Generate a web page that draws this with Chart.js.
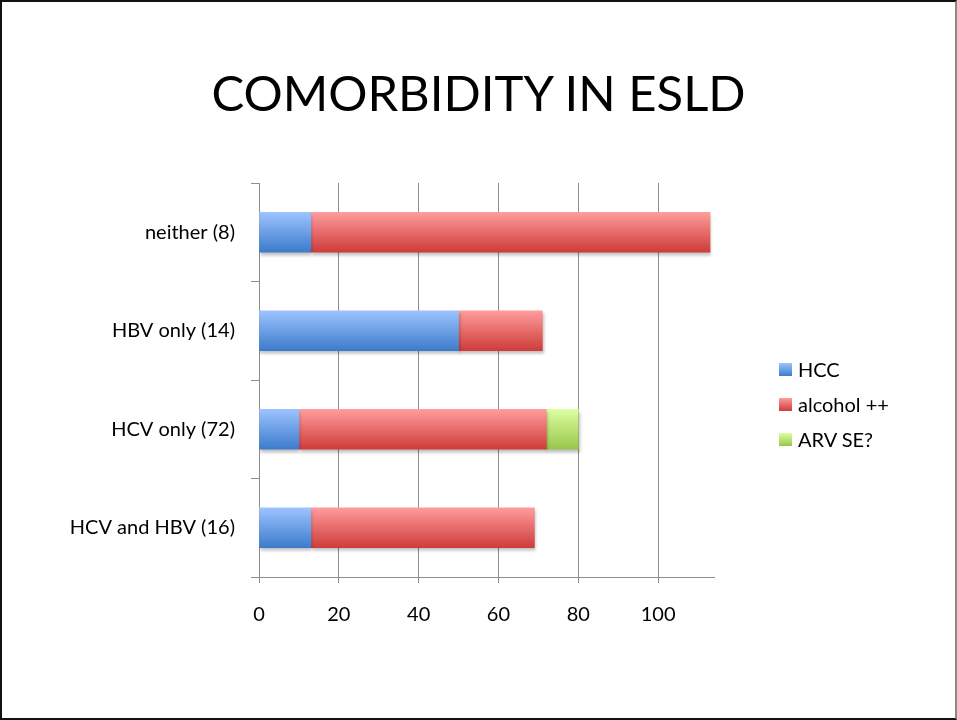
<!DOCTYPE html>
<html>
<head>
<meta charset="utf-8">
<script src="https://cdn.jsdelivr.net/npm/chart.js@4.4.1/dist/chart.umd.min.js"></script>
<style>
  html, body { margin: 0; padding: 0; background: #fff; }
  #wrap { position: relative; width: 957px; height: 720px; }
  #frame { position: absolute; left: 0; top: 0; width: 957px; height: 720px; box-sizing: border-box;
           border: 2px solid #111; border-right: 2px solid #888; pointer-events: none; }
  #title { position: absolute; left: 0; top: 68px; width: 957px; text-align: center;
           font-family: Lato, "Open Sans", sans-serif; font-size: 49px; line-height: 1; color: #000; }
  #legend { position: absolute; left: 779px; top: 357px; font-family: Lato, "Open Sans", sans-serif;
            font-size: 20px; color: #000; }
  #legend div { height: 35px; display: flex; align-items: flex-start; }
  #legend span.box { display: inline-block; width: 13px; height: 13px; margin: 6px 6px 0 0; }
</style>
</head>
<body>
<div id="wrap">
  <canvas id="chart"></canvas>
  <div id="title">COMORBIDITY IN ESLD</div>
  <div id="legend"></div>
  <div id="frame"></div>
</div>
<script>
// 데이터
const categories = ['neither (8)', 'HBV only (14)', 'HCV only (72)', 'HCV and HBV (16)'];
const seriesNames = ['HCC', 'alcohol ++', 'ARV SE?'];
const hccValues = [13, 50, 10, 13];
const alcoholValues = [100, 21, 62, 56];
const arvValues = [null, null, 8, null];
const xTicks = [0, 20, 40, 60, 80, 100];

// 그라데이션 색 (위, 아래)
const gradients = [
    ['#9dc3ff', '#3c7bcb'],
    ['#ff9c9c', '#cd3c3a'],
    ['#dcffa0', '#99c64c']
];

const BAR_H = 40;

function barGradient(idx) {
    return context => {
        const chart = context.chart;
        if (!chart.chartArea) return gradients[idx][1];
        const c = chart.scales.y.getPixelForValue(context.dataIndex);
        const g = chart.ctx.createLinearGradient(0, c - BAR_H / 2, 0, c + BAR_H / 2);
        g.addColorStop(0, gradients[idx][0]);
        g.addColorStop(1, gradients[idx][1]);
        return g;
    };
}

function makeDataset(label, data, idx) {
    return {
        label,
        data,
        backgroundColor: barGradient(idx),
        borderWidth: 0,
        barThickness: BAR_H,
        stack: 's'
    };
}

// 범례 (HTML)
function buildLegend() {
    const el = document.getElementById('legend');
    seriesNames.forEach((name, i) => {
        const row = document.createElement('div');
        const box = document.createElement('span');
        box.className = 'box';
        box.style.background = `linear-gradient(${gradients[i][0]}, ${gradients[i][1]})`;
        row.appendChild(box);
        row.appendChild(document.createTextNode(name));
        el.appendChild(row);
    });
}

// 막대 그림자
const shadowPlugin = {
    id: 'barShadow',
    beforeDatasetsDraw(chart) {
        const ctx = chart.ctx;
        ctx.save();
        ctx.shadowColor = 'rgba(0,0,0,0.25)';
        ctx.shadowOffsetX = 1;
        ctx.shadowOffsetY = 3;
        ctx.shadowBlur = 3;
    },
    afterDatasetsDraw(chart) {
        chart.ctx.restore();
    }
};

const canvas = document.getElementById('chart');
canvas.width = 957;
canvas.height = 720;

new Chart(canvas.getContext('2d'), {
    type: 'bar',
    data: {
        labels: categories,
        datasets: [
            makeDataset(seriesNames[0], hccValues, 0),
            makeDataset(seriesNames[1], alcoholValues, 1),
            makeDataset(seriesNames[2], arvValues, 2)
        ]
    },
    options: {
        indexAxis: 'y',
        responsive: false,
        animation: false,
        layout: { padding: { left: 0, right: 243, top: 183, bottom: 93 } },
        scales: {
            x: {
                stacked: true,
                min: 0,
                max: 114,
                afterBuildTicks: scale => { scale.ticks = xTicks.map(v => ({ value: v })); },
                afterFit: scale => { scale.height = 50; },
                grid: { color: '#8e8e8e', tickLength: 6, lineWidth: 1 },
                border: { color: '#8e8e8e' },
                ticks: {
                    color: '#000',
                    padding: 20,
                    font: { family: 'Lato', size: 20 }
                }
            },
            y: {
                stacked: true,
                afterFit: scale => { scale.width = 259; },
                grid: { drawOnChartArea: false, color: '#8e8e8e', tickLength: 8 },
                border: { color: '#8e8e8e' },
                ticks: {
                    color: '#000',
                    padding: 16,
                    font: { family: 'Lato', size: 20 }
                }
            }
        },
        plugins: {
            legend: { display: false },
            tooltip: { enabled: false },
            title: { display: false }
        }
    },
    plugins: [shadowPlugin]
});

buildLegend();
</script>
</body>
</html>
